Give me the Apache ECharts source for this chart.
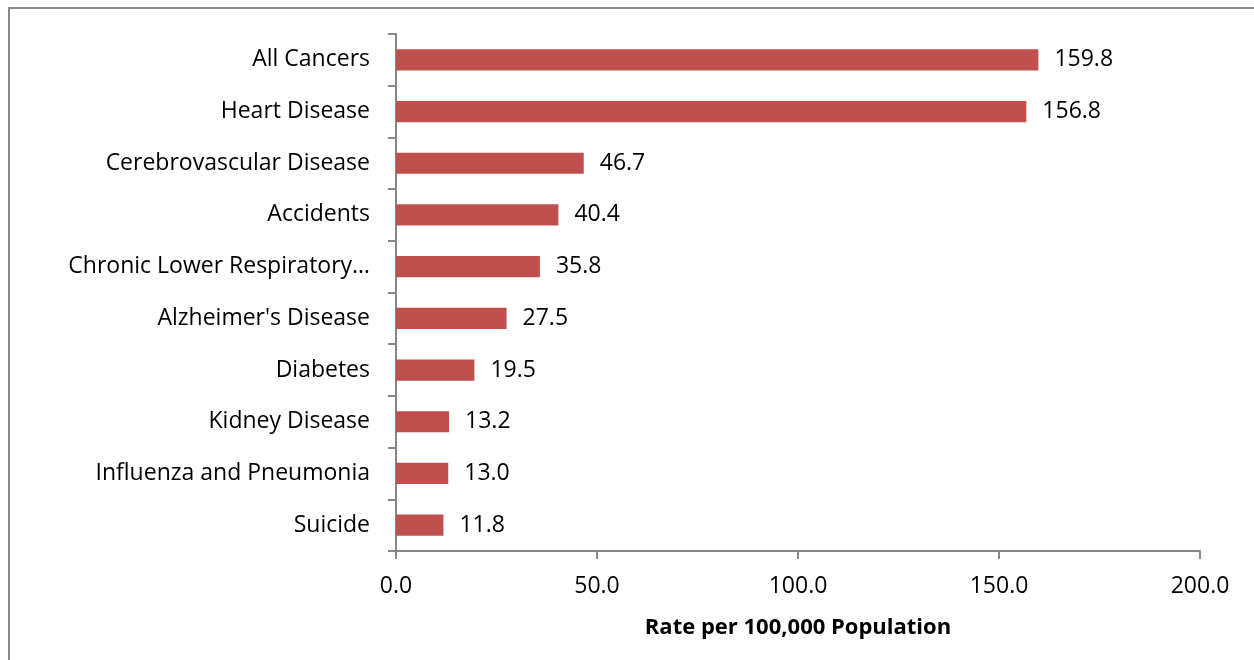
<!DOCTYPE html>
<html>
<head>
<meta charset="utf-8">
<script src="https://cdn.jsdelivr.net/npm/echarts@6/dist/echarts.min.js"></script>
<style>html,body{margin:0;padding:0;background:#fff}#c{width:1254px;height:660px}</style>
</head>
<body>
<div id="c"></div>
<script>
const categories = ["All Cancers","Heart Disease","Cerebrovascular Disease","Accidents","Chronic Lower Respiratory Disease","Alzheimer's Disease","Diabetes","Kidney Disease","Influenza and Pneumonia","Suicide"];
const values = [159.8,156.8,46.7,40.4,35.8,27.5,19.5,13.2,13.0,11.8];
const xTicks = [0,50,100,150,200];
const axisTitle = "Rate per 100,000 Population";

const chart = echarts.init(document.getElementById('c'));
const font = "'Open Sans', sans-serif";
const axisColor = '#868686';
function shorten(s) {
  const maxLen = 25;
  return s.length > maxLen ? s.slice(0, maxLen).trim() + '…' : s;
}
chart.setOption({
  animation: false,
  graphic: [{
    type: 'rect', shape: {x: 9, y: 8, width: 1260, height: 670},
    style: {fill: 'none', stroke: '#888', lineWidth: 2}, silent: true
  }],
  grid: {left: 396, right: 54, top: 34, bottom: 109, containLabel: false},
  xAxis: {
    type: 'value', min: xTicks[0], max: xTicks[xTicks.length-1], interval: 50,
    name: axisTitle, nameLocation: 'middle', nameGap: 66,
    nameTextStyle: {fontFamily: font, fontWeight: 'bold', fontSize: 22, color: '#000'},
    axisLine: {show: true, lineStyle: {color: axisColor, width: 2}},
    axisTick: {show: true, length: 8, lineStyle: {color: axisColor, width: 2}},
    axisLabel: {fontFamily: font, fontSize: 23, color: '#000', margin: 24,
      formatter: v => v.toFixed(1)},
    splitLine: {show: false}
  },
  yAxis: {
    type: 'category', data: categories, inverse: true,
    axisLine: {show: true, lineStyle: {color: axisColor, width: 2}},
    axisTick: {show: true, length: 8, lineStyle: {color: axisColor, width: 2}},
    axisLabel: {fontFamily: font, fontSize: 23, color: '#000', margin: 26,
      formatter: shorten},
    splitLine: {show: false}
  },
  series: [{
    type: 'bar', data: values, barWidth: '41%',
    itemStyle: {color: '#C0504D'},
    label: {show: true, position: 'right', distance: 16, fontFamily: font, fontSize: 23,
      color: '#000', formatter: p => p.value.toFixed(1)}
  }]
});
</script>
</body>
</html>
